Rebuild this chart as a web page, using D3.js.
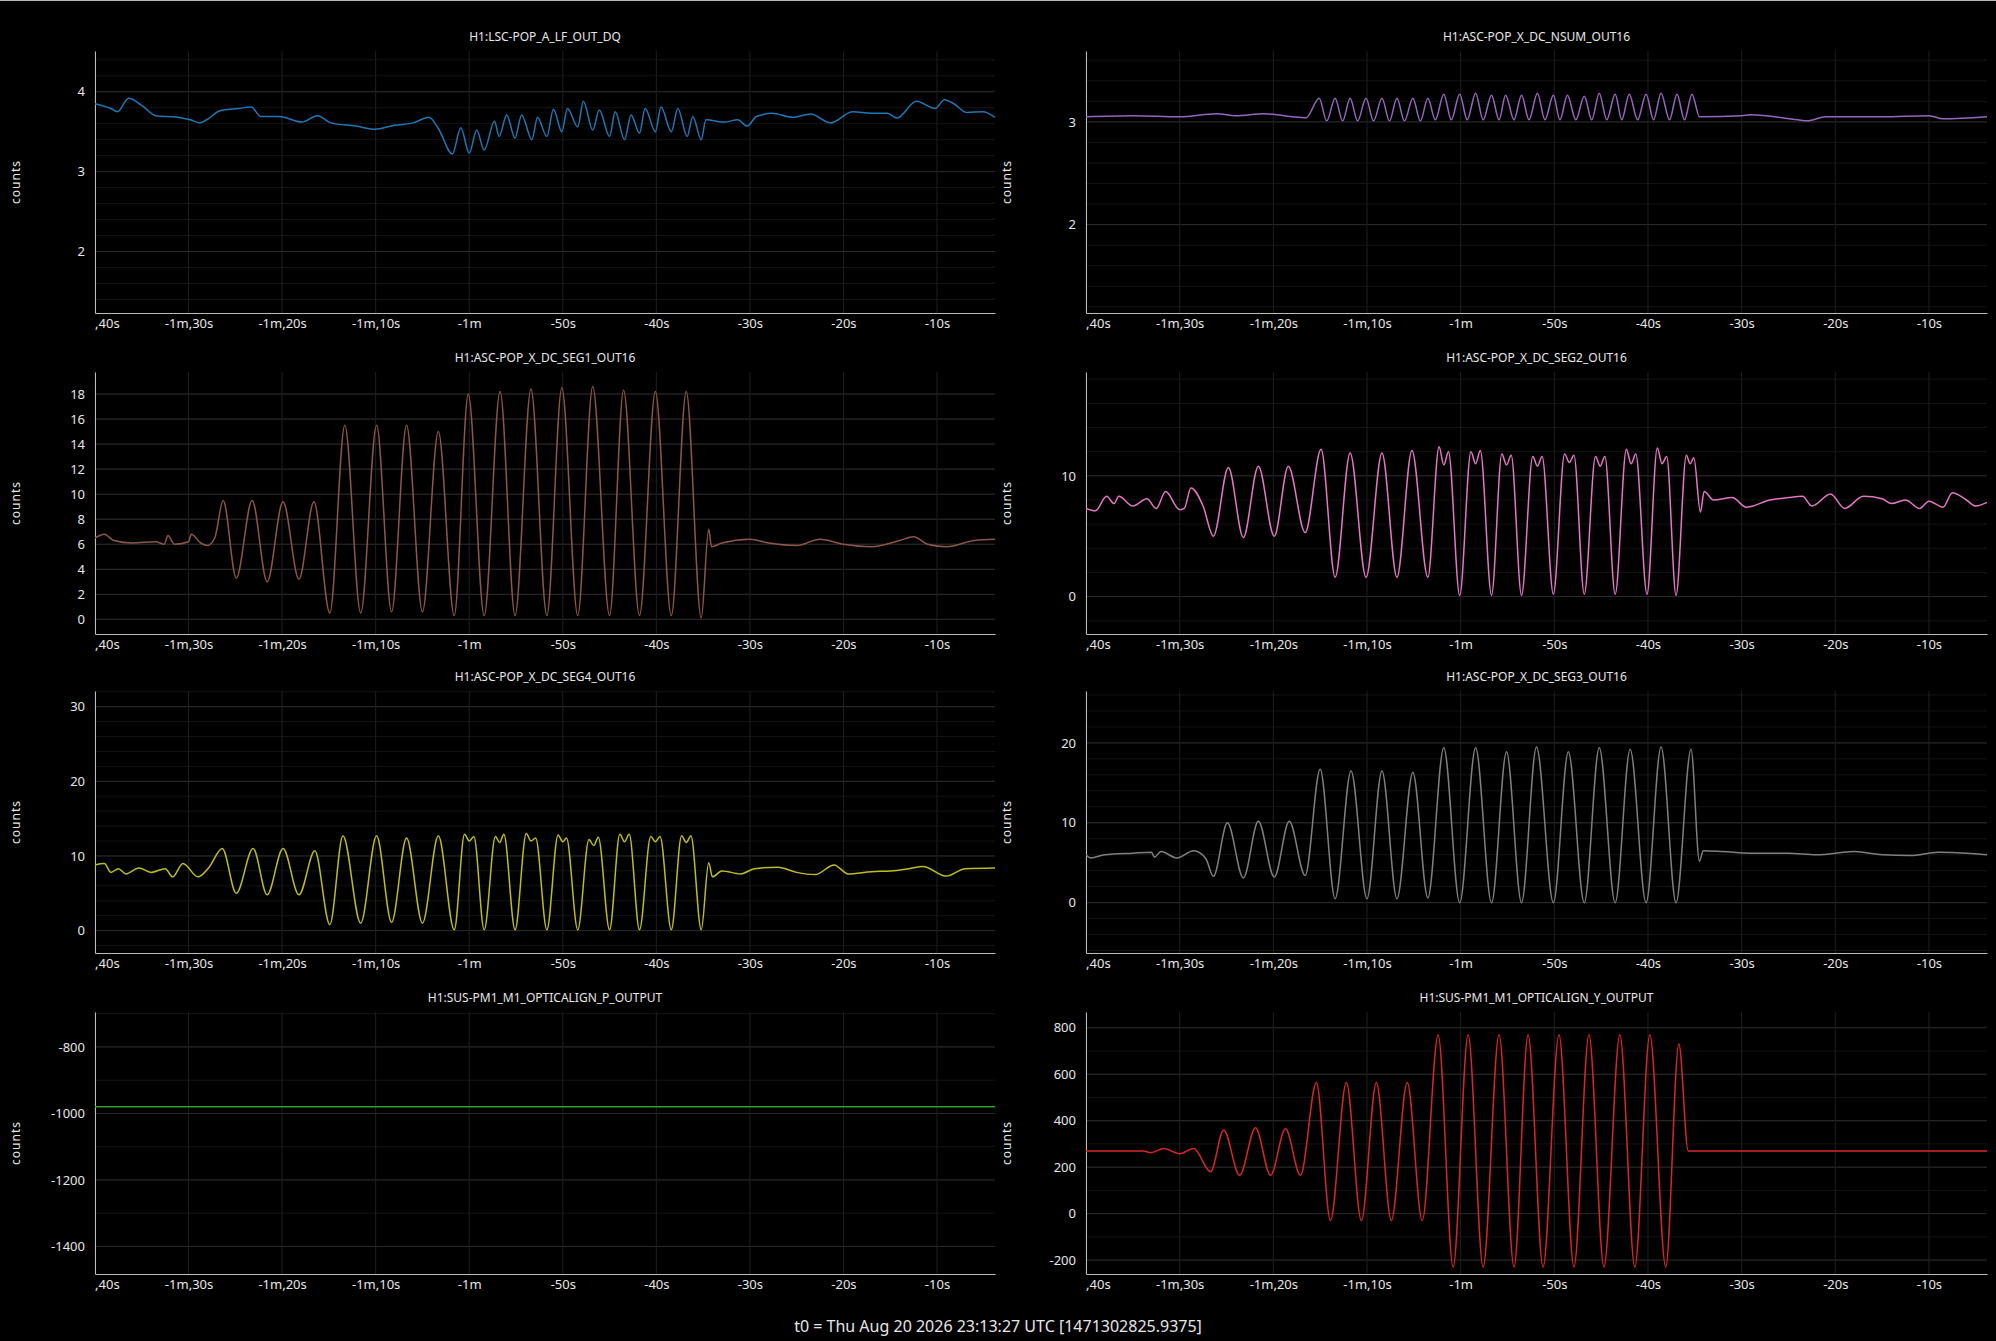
<!DOCTYPE html>
<html>
<head>
<meta charset="utf-8">
<title>ndscope</title>
<script src="https://cdn.jsdelivr.net/npm/d3@7"></script>
<style>
  body { margin: 0; background: #000; }
  svg { display: block; }
  text { font-family: "Noto Sans", sans-serif; fill: #e6e6e6; }
</style>
</head>
<body>
<div id="chart"></div>
<script>
// time axis, seconds relative to t0
var xDomain = [-100, -3.8];
var xTicks = [-100, -90, -80, -70, -60, -50, -40, -30, -20, -10];

// [t, counts]
var popA = [[-100,3.85],[-98.3,3.79],[-97.6,3.75],[-96.4,3.92],[-94.9,3.82],[-93.5,3.70],[-91.2,3.68],[-89.8,3.65],[-88.8,3.61],[-87.8,3.67],[-86.7,3.76],[-84.7,3.79],[-83.3,3.81],[-82.3,3.69],[-80.3,3.69],[-77.9,3.62],[-76.2,3.70],[-74.8,3.61],[-72.1,3.57],[-70.1,3.53],[-68.0,3.58],[-66.0,3.61],[-64.3,3.68],[-63.3,3.54],[-61.8,3.22],[-60.9,3.55],[-60.0,3.23],[-59.2,3.52],[-58.4,3.27],[-57.3,3.63],[-56.8,3.44],[-56.0,3.71],[-55.1,3.42],[-54.4,3.71],[-53.3,3.40],[-52.7,3.68],[-51.7,3.44],[-51.0,3.78],[-50.1,3.50],[-49.5,3.79],[-48.4,3.56],[-47.8,3.88],[-46.8,3.52],[-46.1,3.77],[-45.0,3.44],[-44.4,3.75],[-43.4,3.40],[-42.7,3.71],[-41.8,3.48],[-41.2,3.79],[-40.1,3.50],[-39.5,3.81],[-38.4,3.50],[-37.7,3.79],[-36.7,3.44],[-36.1,3.69],[-35.2,3.40],[-34.7,3.65],[-32.7,3.62],[-31.3,3.65],[-30.3,3.57],[-29.3,3.69],[-27.6,3.73],[-25.5,3.68],[-23.5,3.72],[-21.4,3.61],[-19.0,3.75],[-17.0,3.73],[-15.3,3.73],[-14.3,3.67],[-12.2,3.88],[-10.2,3.79],[-9.2,3.90],[-8.2,3.85],[-6.8,3.74],[-5.1,3.75],[-3.8,3.68]];

var nsum = [[-100,3.05],[-95,3.06],[-90,3.05],[-86,3.08],[-84,3.06],[-81,3.08],[-78,3.05],[-76.5,3.04],
  [-75.1,3.23],[-74.3,3.01],[-73.4,3.23],[-72.6,3.01],[-71.8,3.23],[-71.0,3.01],[-70.1,3.23],[-69.3,3.01],[-68.4,3.23],[-67.6,3.01],[-66.8,3.23],[-66.0,3.01],[-65.1,3.23],[-64.3,3.01],[-63.5,3.23],[-62.7,3.02],
  [-61.8,3.27],[-61.0,3.02],[-60.1,3.27],[-59.3,3.02],[-58.4,3.28],[-57.6,3.02],[-56.7,3.26],[-55.9,3.02],[-55.2,3.26],[-54.3,3.02],[-53.5,3.26],[-52.7,3.02],[-51.8,3.28],[-51.0,3.02],[-50.1,3.26],[-49.4,3.02],[-48.6,3.26],[-47.7,3.02],[-46.8,3.25],[-46.0,3.02],[-45.2,3.28],[-44.4,3.02],[-43.5,3.27],[-42.8,3.02],[-42.0,3.27],[-41.1,3.02],[-40.2,3.27],[-39.4,3.02],[-38.6,3.28],[-37.7,3.02],[-36.9,3.27],[-36.1,3.02],[-35.3,3.27],
  [-34.5,3.05],[-30,3.06],[-29,3.07],[-24,3.02],[-23,3.01],[-21,3.05],[-15,3.05],[-10,3.06],[-8.5,3.03],[-3.8,3.05]];

var seg1 = [[-100,6.5],[-99,6.8],[-98,6.3],[-96,6.1],[-93.5,6.2],[-92.6,6.0],[-92.2,6.7],[-91.5,6.0],[-90,6.2],[-89.7,6.8],[-88.7,6.1],[-88,5.9],[-87.2,6.5],
  [-86.3,9.5],[-84.9,3.3],[-83.2,9.5],[-81.6,3.0],[-79.9,9.4],[-78.2,3.2],[-76.6,9.4],[-74.9,0.5],[-73.3,15.5],[-71.6,0.5],[-69.9,15.5],[-68.3,0.6],[-66.7,15.5],[-65.0,0.6],[-63.3,15.0],[-61.6,0.3],[-60.1,18.0],[-58.4,0.3],[-56.7,18.2],[-55.1,0.3],[-53.4,18.4],[-51.7,0.3],[-50.1,18.5],[-48.4,0.3],[-46.8,18.6],[-45.0,0.3],[-43.5,18.3],[-41.8,0.3],[-40.1,18.2],[-38.4,0.3],[-36.8,18.2],[-35.2,0.1],
  [-34.4,7.2],[-34.1,5.8],[-33,6.1],[-30,6.4],[-28,6.1],[-25,5.9],[-22.5,6.4],[-20,6.0],[-17,5.8],[-14,6.3],[-12.5,6.6],[-11,6.0],[-9,5.8],[-6,6.3],[-3.8,6.4]];

var seg2 = [[-100,7.3],[-99,7.1],[-97.8,8.3],[-97,7.7],[-96.5,8.3],[-95,7.5],[-93.5,8.1],[-92.5,7.3],[-91.5,8.7],[-90,7.2],[-89.5,7.3],[-88.8,9.0],[-87.5,7.5],
  [-86.4,5.0],[-84.8,10.7],[-83.2,4.9],[-81.6,10.8],[-79.9,5.0],[-78.4,10.8],[-76.6,5.3],[-74.9,12.2],[-73.4,1.6],[-71.8,11.9],[-70.1,1.6],[-68.4,11.9],[-66.8,1.6],[-65.2,12.1],[-63.5,1.6],
  [-62.3,12.4],[-61.8,10.9],[-61.3,12.0],[-60.1,0.1],[-58.9,12.0],[-58.4,11.0],[-57.9,12.1],[-56.7,0.1],[-55.6,11.8],[-55.1,10.9],[-54.6,11.7],[-53.5,0.1],[-52.3,11.6],[-51.8,10.8],[-51.3,11.6],[-50.1,0.2],[-48.9,11.8],[-48.4,11.1],[-47.9,11.7],[-46.8,0.2],[-45.6,11.6],[-45.1,10.8],[-44.6,11.6],[-43.5,0.2],[-42.3,12.2],[-41.8,11.0],[-41.3,11.8],[-40.1,0.2],[-39.0,12.3],[-38.5,11.0],[-38.0,11.6],[-37.0,0.1],[-35.9,11.7],[-35.5,11.0],[-35.1,11.5],
  [-34.4,7.0],[-34.0,8.7],[-33,8.0],[-31,8.2],[-29.5,7.4],[-27,8.0],[-25,8.2],[-23.5,8.3],[-22.5,7.5],[-20.5,8.5],[-19,7.3],[-17,8.3],[-15,8.1],[-14,7.7],[-12.5,8.0],[-11,7.3],[-10,7.9],[-8.5,7.4],[-7.5,8.6],[-6,8.0],[-5,7.5],[-3.8,7.8]];

var seg4 = [[-100,8.8],[-99,9.0],[-98.3,7.8],[-97.5,8.3],[-96.7,7.6],[-95.3,8.4],[-94,7.8],[-92.5,8.3],[-91.7,7.2],[-90.6,9.0],[-89,7.2],[-87.8,8.5],
  [-86.4,11.0],[-84.9,5.0],[-83.1,11.0],[-81.6,4.8],[-79.9,11.0],[-78.2,4.8],[-76.5,10.7],[-74.9,0.8],[-73.5,12.7],[-71.6,1.0],[-69.9,12.7],[-68.3,1.1],[-66.7,12.4],[-65.0,1.0],[-63.3,12.7],[-61.6,0.1],
  [-60.5,12.9],[-60.0,12.0],[-59.5,12.6],[-58.4,0.1],[-57.2,12.6],[-56.75,11.8],[-56.3,12.9],[-55.1,0.1],[-53.9,13.0],[-53.4,12.0],[-52.9,12.4],[-51.7,0.1],[-50.5,12.8],[-50.0,11.9],[-49.6,12.4],[-48.4,0.1],[-47.2,12.2],[-46.7,11.4],[-46.2,12.5],[-45.0,0.1],[-43.9,12.9],[-43.4,11.9],[-42.9,12.9],[-41.8,0.1],[-40.6,12.6],[-40.1,11.9],[-39.6,12.6],[-38.4,0.1],[-37.3,12.7],[-36.8,11.8],[-36.3,12.7],[-35.2,0.1],
  [-34.4,9.1],[-34.0,7.2],[-33,8.0],[-31,7.6],[-29.5,8.3],[-27,8.5],[-25,7.8],[-23,7.5],[-21,8.8],[-19.5,7.6],[-17,7.9],[-15,8.0],[-13,8.3],[-11.5,8.6],[-9,7.3],[-7,8.3],[-3.8,8.4]];

var seg3 = [[-100,6.0],[-99.5,5.6],[-98,6.0],[-95,6.2],[-93,6.3],[-92.7,5.7],[-92,6.4],[-90.3,5.6],[-88.5,6.5],[-87.2,5.5],
  [-86.4,3.3],[-84.9,10.0],[-83.2,3.1],[-81.6,10.2],[-79.9,3.2],[-78.3,10.2],[-76.6,3.4],[-75.0,16.7],[-73.4,0.5],[-71.7,16.5],[-70.0,0.5],[-68.4,16.5],[-66.8,0.5],[-65.1,16.3],[-63.5,0.6],[-61.8,19.4],[-60.1,0],[-58.4,19.4],[-56.7,0],[-55.1,18.9],[-53.5,0],[-51.9,19.5],[-50.1,0],[-48.5,18.9],[-46.8,0],[-45.2,19.4],[-43.5,0],[-41.9,19.2],[-40.2,0],[-38.6,19.5],[-37.0,0],[-35.4,19.2],
  [-34.5,5.2],[-34.1,6.5],[-32,6.4],[-29,6.2],[-25,6.2],[-22,6.0],[-18,6.4],[-15,6.0],[-12,5.9],[-9,6.3],[-6,6.2],[-3.8,6.0]];

var alignP = [[-100,-980],[-3.8,-980]];

var alignY = [[-100,270],[-93.9,270],[-93.1,262],[-91.7,280],[-90.0,258],[-88.5,280],
  [-86.7,180],[-85.3,360],[-83.6,165],[-81.9,370],[-80.3,165],[-78.7,365],[-77.1,165],[-75.4,565],[-73.9,-30],[-72.2,565],[-70.6,-30],[-69.0,565],[-67.4,-30],[-65.7,565],[-64.1,-30],
  [-62.4,770],[-60.8,-230],[-59.2,770],[-57.6,-230],[-55.9,770],[-54.3,-230],[-52.8,770],[-51.2,-230],[-49.5,770],[-47.9,-230],[-46.3,770],[-44.7,-230],[-43.0,770],[-41.4,-230],[-39.8,770],[-38.1,-230],[-36.7,730],[-35.7,270],[-3.8,270]];

var titles = ["H1:LSC-POP_A_LF_OUT_DQ","H1:ASC-POP_X_DC_NSUM_OUT16","H1:ASC-POP_X_DC_SEG1_OUT16","H1:ASC-POP_X_DC_SEG2_OUT16",
  "H1:ASC-POP_X_DC_SEG4_OUT16","H1:ASC-POP_X_DC_SEG3_OUT16","H1:SUS-PM1_M1_OPTICALIGN_P_OUTPUT","H1:SUS-PM1_M1_OPTICALIGN_Y_OUTPUT"];
var series = [popA, nsum, seg1, seg2, seg4, seg3, alignP, alignY];
var yDomains = [[1.23,4.51],[1.14,3.69],[-1.17,19.76],[-3.1,18.6],[-3.0,32.1],[-6.3,26.5],[-1483,-695],[-260,868]];
var yTicks = [[2,3,4],[2,3],[0,2,4,6,8,10,12,14,16,18],[0,10],[0,10,20,30],[0,10,20],[-1400,-1200,-1000,-800],[-200,0,200,400,600,800]];
var yMinor = [0.2,0.2,2,2,2,2,100,100];
var colors = ["#1f77b4","#9467bd","#8c564b","#e377c2","#bcbd22","#7f7f7f","#2ca02c","#d62728"];
var footer = "t0 = Thu Aug 20 2026 23:13:27 UTC [1471302825.9375]";

var W = 1996, H = 1341;
var colX = [[95,995],[1086,1987]];
var rowY = [[51,313],[372,634],[691,953],[1012,1274]];

var svg = d3.select("#chart").append("svg").attr("width",W).attr("height",H);
svg.append("rect").attr("width",W).attr("height",H).attr("fill","#000");
svg.append("line").attr("x1",0).attr("x2",W).attr("y1",0.5).attr("y2",0.5).attr("stroke","#bbb");

function fmtTime(t){
  var s = -t, m = Math.floor(s/60), r = Math.round(s - m*60);
  if(m == 0) return "-" + r + "s";
  return r == 0 ? "-" + m + "m" : "-" + m + "m," + r + "s";
}

series.forEach(function(data, i){
  var c = i % 2, r = Math.floor(i/2);
  var x0 = colX[c][0], x1 = colX[c][1], y0 = rowY[r][0], y1 = rowY[r][1];
  var x = d3.scaleLinear().domain(xDomain).range([x0,x1]);
  var y = d3.scaleLinear().domain(yDomains[i]).range([y1,y0]);
  var g = svg.append("g");
  var clipId = "clip" + i;
  svg.append("clipPath").attr("id",clipId).append("rect")
    .attr("x",x0).attr("y",y0 - 5).attr("width",x1-x0+2).attr("height",y1-y0+40);

  // minor + major horizontal grid
  var d = yDomains[i], step = yMinor[i];
  var minor = d3.range(Math.ceil(d[0]/step)*step, d[1], step);
  g.selectAll(".hmin").data(minor).enter().append("line")
    .attr("x1",x0).attr("x2",x1).attr("y1",function(v){return y(v);}).attr("y2",function(v){return y(v);})
    .attr("stroke","#141414");
  g.selectAll(".hmaj").data(yTicks[i]).enter().append("line")
    .attr("x1",x0).attr("x2",x1).attr("y1",function(v){return y(v);}).attr("y2",function(v){return y(v);})
    .attr("stroke","#2a2a2a");
  g.selectAll(".vg").data(xTicks).enter().append("line")
    .attr("x1",function(t){return x(t);}).attr("x2",function(t){return x(t);}).attr("y1",y0).attr("y2",y1)
    .attr("stroke","#1f1f1f");

  // axes
  var yAxis = d3.axisLeft(y).tickValues(yTicks[i]).tickSize(0).tickPadding(10).tickFormat(function(v){return String(v);});
  var ya = g.append("g").attr("transform","translate("+x0+",0)").call(yAxis);
  ya.select(".domain").attr("stroke","#bbb");
  ya.selectAll("text").style("font-size","13px").attr("fill","#e6e6e6");
  var xAxis = d3.axisBottom(x).tickValues(xTicks).tickSize(0).tickPadding(6).tickFormat(fmtTime);
  var xa = g.append("g").attr("clip-path","url(#"+clipId+")")
    .append("g").attr("transform","translate(0,"+y1+")").call(xAxis);
  xa.select(".domain").attr("stroke","#bbb");
  xa.selectAll("text").style("font-size","13px").attr("fill","#e6e6e6");

  // trace
  var line = d3.line().curve(d3.curveMonotoneX)
    .x(function(p){return x(p[0]);}).y(function(p){return y(p[1]);});
  g.append("path").attr("d",line(data)).attr("fill","none").attr("stroke",colors[i])
    .attr("stroke-width",1.5).attr("clip-path","url(#"+clipId+")");

  g.append("text").attr("x",(x0+x1)/2).attr("y",y0-10).attr("text-anchor","middle")
    .style("font-size","12px").text(titles[i]);
  g.append("text").attr("transform","translate("+(x0-75)+","+((y0+y1)/2)+") rotate(-90)")
    .attr("text-anchor","middle").style("font-size","12px").style("letter-spacing","1px").text("counts");
});

svg.append("text").attr("x",W/2).attr("y",1332).attr("text-anchor","middle")
  .style("font-size","16px").text(footer);
</script>
</body>
</html>
